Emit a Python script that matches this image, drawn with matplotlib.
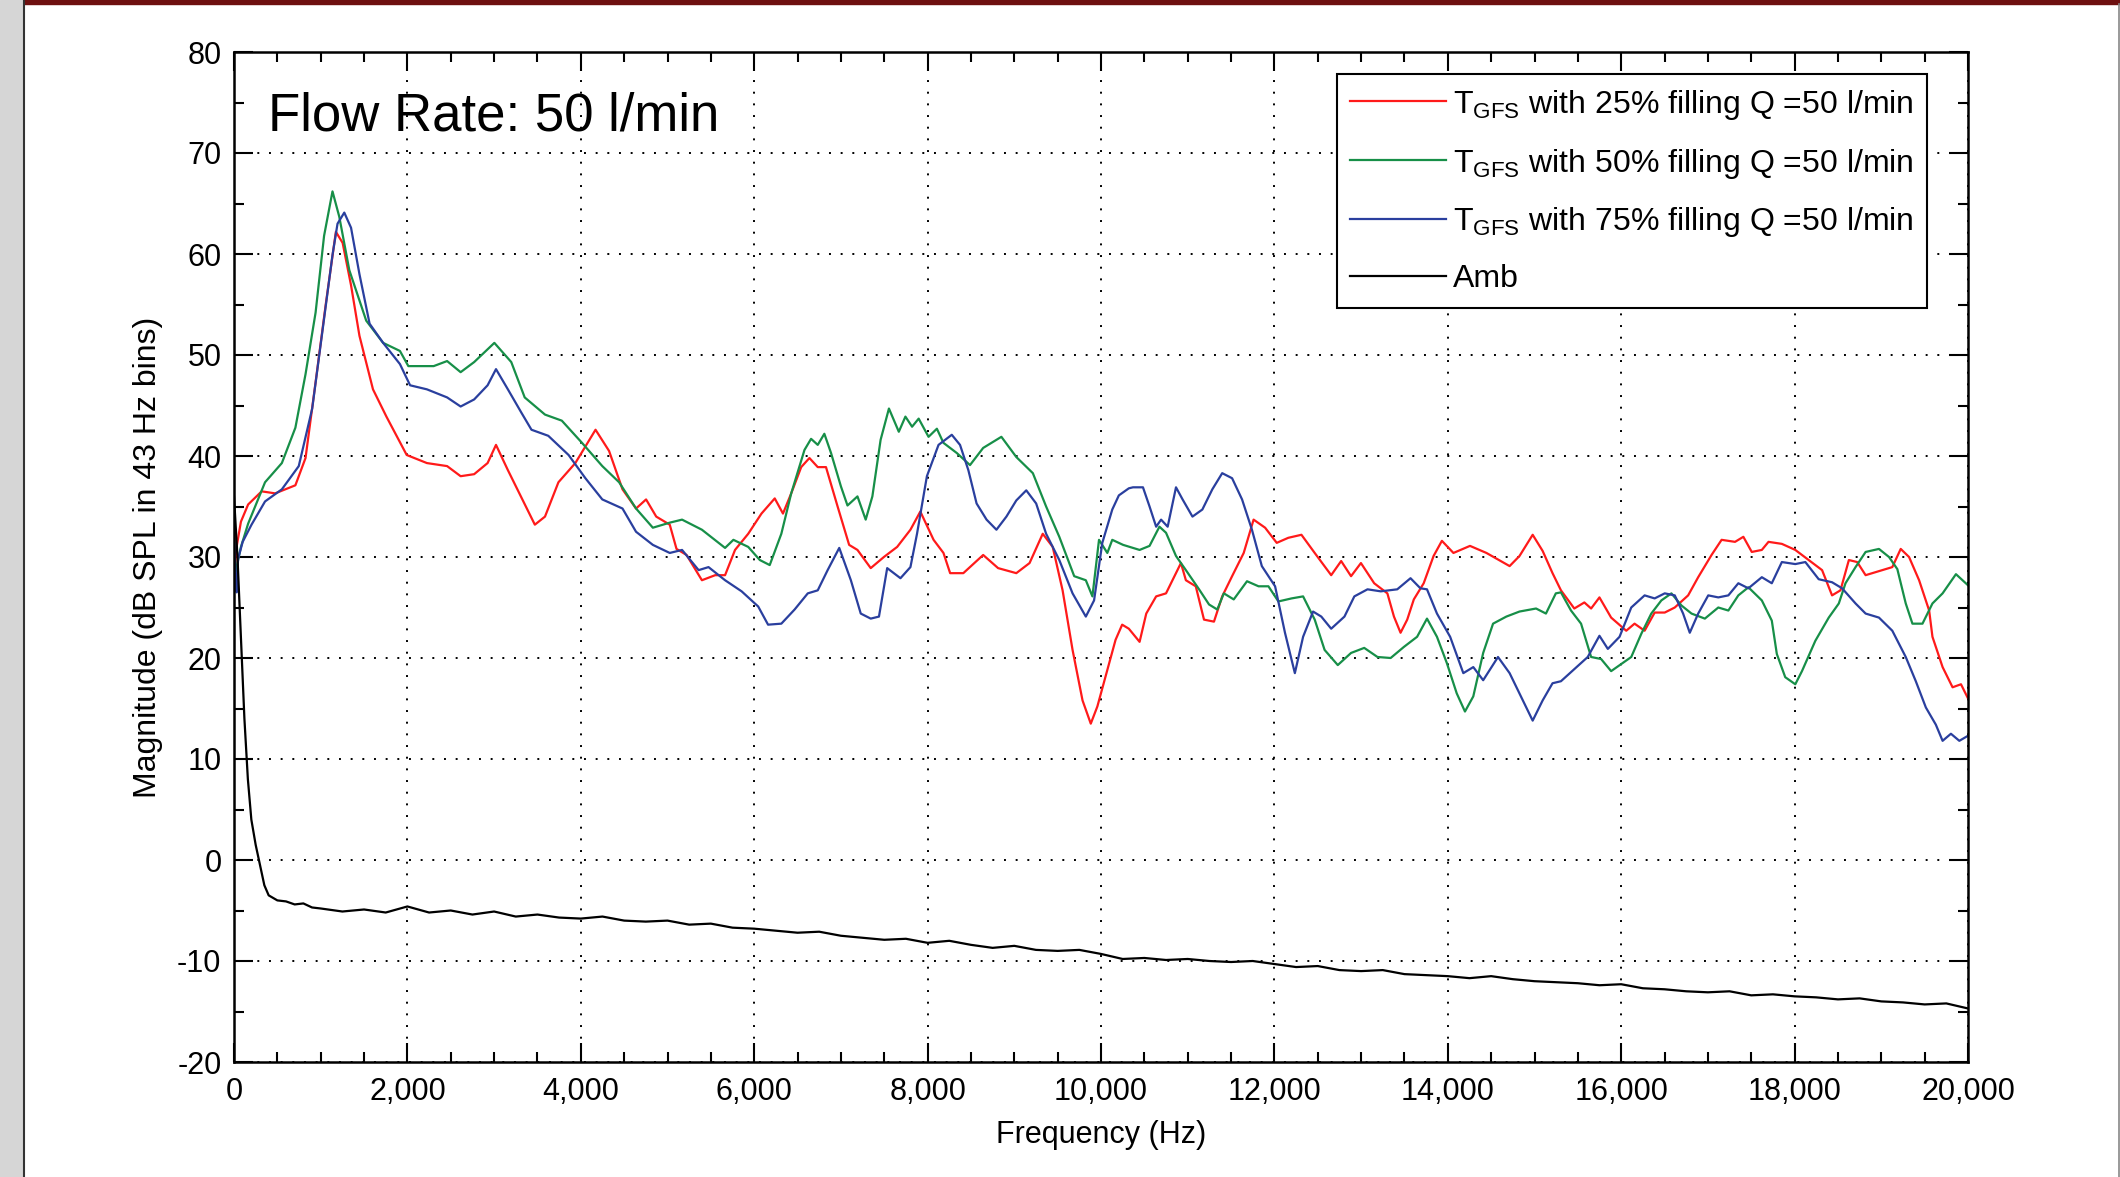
import matplotlib
matplotlib.use("Agg")
from matplotlib import pyplot as plt
from matplotlib.ticker import MultipleLocator
from matplotlib.patches import Rectangle
from matplotlib.lines import Line2D

plt.rcParams['font.family'] = ['Liberation Sans', 'DejaVu Sans']
plt.rcParams['mathtext.fontset'] = 'custom'
plt.rcParams['mathtext.rm'] = 'Liberation Sans'
plt.rcParams['mathtext.it'] = 'Liberation Sans:italic'
plt.rcParams['axes.unicode_minus'] = False

# T_GFS 25% filling
red_f = [0, 30, 80, 163, 319, 475, 708, 825, 941, 1058, 1175, 1253, 1350, 1447, 1603, 1758, 1992,
         2225, 2458, 2614, 2770, 2925, 3022, 3159, 3314, 3470, 3587, 3742, 3937, 4170, 4326, 4481,
         4637, 4753, 4870, 5026, 5104, 5220, 5397, 5550, 5664, 5779, 5931, 6084, 6237, 6332, 6427,
         6542, 6637, 6733, 6828, 6962, 7095, 7191, 7344, 7496, 7649, 7802, 7916, 8069, 8183, 8260,
         8412, 8641, 8813, 9023, 9176, 9328, 9443, 9557, 9672, 9787, 9882, 9958, 10054, 10168,
         10244, 10321, 10445, 10522, 10636, 10750, 10865, 10922, 10979, 11093, 11188, 11303, 11398,
         11512, 11646, 11760, 11893, 12027, 12160, 12312, 12465, 12655, 12770, 12884, 12998, 13151,
         13303, 13379, 13455, 13532, 13608, 13722, 13836, 13932, 14065, 14256, 14446, 14713, 14827,
         14979, 15094, 15208, 15305, 15459, 15575, 15653, 15749, 15884, 16058, 16154, 16270, 16386,
         16502, 16618, 16772, 16888, 17042, 17158, 17313, 17409, 17506, 17622, 17699, 17853, 18008,
         18162, 18317, 18432, 18529, 18626, 18722, 18819, 19012, 19127, 19224, 19320, 19436, 19552,
         19590, 19707, 19822, 19919, 20000]
red_db = [28.0, 31.0, 33.5, 35.2, 36.5, 36.3, 37.1, 39.8, 47.3, 55.0, 62.2, 61.1, 56.9, 51.9, 46.6,
          43.9, 40.1, 39.3, 39.0, 38.0, 38.2, 39.3, 41.1, 38.6, 35.9, 33.2, 34.0, 37.4, 39.3, 42.6,
          40.5, 36.7, 34.8, 35.7, 34.0, 33.2, 30.8, 30.2, 27.7, 28.2, 28.2, 30.7, 32.3, 34.3, 35.8,
          34.3, 36.3, 38.9, 39.8, 38.9, 38.9, 35.0, 31.2, 30.7, 28.9, 30.0, 31.0, 32.7, 34.5, 31.7,
          30.4, 28.4, 28.4, 30.2, 28.9, 28.4, 29.4, 32.3, 31.0, 26.7, 20.8, 15.8, 13.5, 15.2, 18.2,
          21.8, 23.3, 22.9, 21.6, 24.4, 26.1, 26.4, 28.4, 29.4, 27.7, 27.1, 23.8, 23.6, 26.1, 28.1,
          30.4, 33.7, 32.9, 31.4, 31.9, 32.2, 30.4, 28.2, 29.6, 28.1, 29.4, 27.4, 26.4, 24.1, 22.5,
          23.8, 25.8, 27.4, 30.1, 31.6, 30.4, 31.1, 30.4, 29.1, 30.1, 32.2, 30.6, 28.4, 26.7, 24.9,
          25.5, 24.9, 26.0, 24.0, 22.7, 23.4, 22.7, 24.5, 24.5, 25.0, 26.2, 28.0, 30.2, 31.7, 31.5,
          32.0, 30.5, 30.7, 31.5, 31.3, 30.7, 29.7, 28.7, 26.2, 26.7, 29.7, 29.5, 28.2, 28.7, 29.0,
          30.8, 30.0, 27.7, 24.7, 22.1, 19.1, 17.1, 17.4, 16.0]

# T_GFS 50% filling
green_f = [0, 30, 80, 163, 358, 552, 708, 825, 941, 1039, 1136, 1214, 1330, 1525, 1720, 1914, 2011,
           2303, 2458, 2614, 2770, 3003, 3198, 3353, 3587, 3781, 4014, 4248, 4442, 4637, 4831, 5026,
           5168, 5397, 5664, 5760, 5931, 6065, 6179, 6313, 6427, 6580, 6656, 6733, 6809, 6886, 7000,
           7076, 7191, 7286, 7363, 7458, 7554, 7668, 7744, 7821, 7897, 8011, 8107, 8183, 8336, 8489,
           8641, 8851, 9023, 9214, 9367, 9519, 9691, 9825, 9901, 9977, 10073, 10130, 10255, 10445,
           10560, 10674, 10750, 10865, 10979, 11131, 11246, 11341, 11417, 11531, 11684, 11817, 11931,
           12046, 12198, 12331, 12465, 12579, 12731, 12884, 13036, 13189, 13341, 13494, 13646, 13760,
           13875, 13989, 14103, 14198, 14294, 14408, 14522, 14675, 14827, 15018, 15132, 15246, 15305,
           15421, 15537, 15653, 15768, 15884, 16000, 16116, 16232, 16347, 16463, 16579, 16695, 16811,
           16965, 17120, 17236, 17351, 17467, 17622, 17737, 17795, 17892, 18008, 18085, 18239, 18394,
           18510, 18587, 18703, 18819, 18973, 19089, 19185, 19282, 19359, 19475, 19590, 19707, 19861,
           20000]
green_db = [27.5, 29.0, 31.0, 33.3, 37.4, 39.3, 42.8, 48.1, 54.2, 61.8, 66.2, 63.7, 58.4, 53.4, 51.2,
            50.4, 48.9, 48.9, 49.4, 48.3, 49.3, 51.2, 49.3, 45.8, 44.1, 43.5, 41.3, 39.0, 37.4, 34.8,
            32.9, 33.4, 33.7, 32.7, 30.9, 31.7, 31.0, 29.7, 29.2, 32.3, 36.3, 40.6, 41.7, 41.1, 42.2,
            40.3, 37.0, 35.1, 36.0, 33.7, 36.0, 41.6, 44.7, 42.4, 43.9, 42.9, 43.7, 41.9, 42.7, 41.3,
            40.3, 39.1, 40.8, 41.9, 39.9, 38.3, 35.0, 32.0, 28.1, 27.7, 26.1, 31.7, 30.4, 31.7, 31.2,
            30.7, 31.1, 33.0, 32.4, 30.1, 28.7, 26.8, 25.3, 24.8, 26.4, 25.8, 27.6, 27.1, 27.1, 25.6,
            25.9, 26.1, 23.8, 20.8, 19.3, 20.5, 21.0, 20.1, 20.0, 21.1, 22.1, 23.9, 22.1, 19.5, 16.5,
            14.7, 16.2, 20.5, 23.4, 24.1, 24.6, 24.9, 24.4, 26.4, 26.5, 24.7, 23.4, 20.1, 19.9, 18.7,
            19.4, 20.1, 22.4, 24.4, 25.7, 26.4, 25.2, 24.4, 23.9, 25.0, 24.7, 26.2, 27.0, 25.7, 23.7,
            20.4, 18.1, 17.4, 18.7, 21.7, 24.0, 25.4, 27.4, 29.0, 30.5, 30.8, 30.0, 28.8, 25.4, 23.4,
            23.4, 25.4, 26.4, 28.3, 27.2]

# T_GFS 75% filling
blue_f = [0, 15, 30, 47, 100, 202, 358, 552, 747, 902, 1019, 1136, 1194, 1272, 1350, 1447, 1564,
          1720, 1914, 2031, 2225, 2458, 2614, 2770, 2925, 3022, 3159, 3314, 3431, 3625, 3859, 4053,
          4248, 4481, 4637, 4831, 5026, 5168, 5359, 5473, 5664, 5855, 6046, 6160, 6313, 6466, 6618,
          6733, 6847, 6981, 7115, 7229, 7344, 7439, 7534, 7687, 7802, 7878, 7992, 8126, 8279, 8374,
          8470, 8565, 8680, 8794, 8909, 9023, 9138, 9252, 9367, 9519, 9672, 9825, 9920, 10015, 10130,
          10206, 10321, 10369, 10484, 10560, 10636, 10693, 10769, 10865, 10941, 11055, 11169, 11284,
          11398, 11512, 11627, 11741, 11855, 12008, 12122, 12236, 12331, 12446, 12541, 12655, 12808,
          12922, 13074, 13227, 13417, 13570, 13684, 13760, 13875, 14027, 14179, 14294, 14408, 14579,
          14713, 14865, 14979, 15094, 15208, 15305, 15459, 15614, 15749, 15846, 15981, 16116, 16270,
          16386, 16502, 16618, 16714, 16791, 16888, 17004, 17120, 17236, 17351, 17467, 17622, 17737,
          17853, 18008, 18124, 18278, 18432, 18548, 18703, 18819, 18973, 19127, 19282, 19398, 19514,
          19629, 19707, 19803, 19900, 20000]
blue_db = [33.0, 28.0, 26.5, 29.8, 31.5, 33.2, 35.5, 36.7, 39.0, 44.7, 52.3, 59.9, 63.0, 64.1, 62.6,
           58.0, 53.1, 51.2, 49.1, 47.0, 46.6, 45.8, 44.9, 45.6, 47.0, 48.6, 46.6, 44.3, 42.6, 42.0,
           40.1, 37.8, 35.7, 34.8, 32.5, 31.2, 30.4, 30.7, 28.7, 29.0, 27.7, 26.6, 25.1, 23.3, 23.4,
           24.8, 26.4, 26.7, 28.7, 30.9, 27.7, 24.4, 23.9, 24.1, 28.9, 27.9, 29.0, 32.3, 38.0, 41.1,
           42.1, 41.1, 38.6, 35.3, 33.7, 32.7, 34.0, 35.6, 36.6, 35.3, 32.3, 29.7, 26.4, 24.1, 25.7,
           31.4, 34.7, 36.1, 36.8, 36.9, 36.9, 35.0, 33.0, 33.7, 33.0, 36.9, 35.7, 34.0, 34.7, 36.7,
           38.3, 37.8, 35.7, 32.7, 29.1, 27.1, 22.5, 18.5, 22.1, 24.6, 24.1, 22.9, 24.1, 26.1, 26.8,
           26.6, 26.8, 27.9, 26.9, 26.8, 24.4, 22.1, 18.5, 19.1, 17.8, 20.1, 18.5, 15.8, 13.8, 15.8,
           17.5, 17.7, 18.9, 20.1, 22.2, 20.9, 22.1, 25.0, 26.2, 25.9, 26.4, 26.2, 24.4, 22.5, 24.4,
           26.2, 26.0, 26.2, 27.4, 26.9, 28.0, 27.4, 29.5, 29.3, 29.5, 27.8, 27.5, 26.9, 25.4, 24.4,
           24.0, 22.7, 20.1, 17.7, 15.1, 13.4, 11.8, 12.5, 11.8, 12.3]

# Ambient
amb_f = [0, 40, 80, 120, 160, 200, 250, 300, 350, 400, 500, 600, 700, 800, 900, 1000, 1250, 1500,
         1750, 2000, 2250, 2500, 2750, 3000, 3250, 3500, 3750, 4000, 4250, 4500, 4750, 5000, 5250,
         5500, 5750, 6000, 6250, 6500, 6750, 7000, 7250, 7500, 7750, 8000, 8250, 8500, 8750, 9000,
         9250, 9500, 9750, 10000, 10250, 10500, 10750, 11000, 11250, 11500, 11750, 12000, 12250,
         12500, 12750, 13000, 13250, 13500, 13750, 14000, 14250, 14500, 14750, 15000, 15250, 15500,
         15750, 16000, 16250, 16500, 16750, 17000, 17250, 17500, 17750, 18000, 18250, 18500, 18750,
         19000, 19250, 19500, 19750, 20000]
amb_db = [36.0, 30.0, 22.0, 14.0, 8.0, 4.0, 1.5, -0.5, -2.5, -3.5, -4.0, -4.1, -4.4, -4.3, -4.7,
          -4.8, -5.1, -4.9, -5.2, -4.6, -5.2, -5.0, -5.4, -5.1, -5.6, -5.4, -5.7, -5.8, -5.6, -6.0,
          -6.1, -6.0, -6.4, -6.3, -6.7, -6.8, -7.0, -7.2, -7.1, -7.5, -7.7, -7.9, -7.8, -8.2, -8.0,
          -8.4, -8.7, -8.5, -8.9, -9.0, -8.9, -9.3, -9.8, -9.7, -9.9, -9.8, -10.0, -10.1, -10.0,
          -10.3, -10.6, -10.5, -10.9, -11.0, -10.9, -11.3, -11.4, -11.5, -11.7, -11.5, -11.8, -12.0,
          -12.1, -12.2, -12.4, -12.3, -12.7, -12.8, -13.0, -13.1, -13.0, -13.4, -13.3, -13.5, -13.6,
          -13.8, -13.7, -14.0, -14.1, -14.3, -14.2, -14.7]

series_labels = [r'T$_{\mathrm{GFS}}$ with 25% filling Q =50 l/min',
                 r'T$_{\mathrm{GFS}}$ with 50% filling Q =50 l/min',
                 r'T$_{\mathrm{GFS}}$ with 75% filling Q =50 l/min',
                 'Amb']
x_ticks = [0, 2000, 4000, 6000, 8000, 10000, 12000, 14000, 16000, 18000, 20000]
x_tick_labels = ['0', '2,000', '4,000', '6,000', '8,000', '10,000', '12,000', '14,000',
                 '16,000', '18,000', '20,000']
y_ticks = [-20, -10, 0, 10, 20, 30, 40, 50, 60, 70, 80]

W, H = 2120, 1177
fig = plt.figure(figsize=(W / 100, H / 100), dpi=100)

# page frame around the figure
fig.add_artist(Rectangle((0, 0), 23 / W, 1, transform=fig.transFigure, color='#d6d6d6', zorder=0))
fig.add_artist(Line2D([24 / W, 24 / W], [0, 1], transform=fig.transFigure, color='#333333', lw=1.5))
fig.add_artist(Rectangle((24 / W, 1 - 4 / H), 1, 4 / H, transform=fig.transFigure,
                         color='#6e1010', zorder=1))
fig.add_artist(Line2D([2118.5 / W, 2118.5 / W], [0, 1 - 4 / H], transform=fig.transFigure,
                      color='#888888', lw=1.2))

ax = fig.add_axes([234 / W, 1 - 1062 / H, 1734 / W, 1010 / H])

ax.plot(red_f, red_db, color='#ff1a1a', lw=1.6, label=series_labels[0])
ax.plot(green_f, green_db, color='#178f48', lw=1.6, label=series_labels[1])
ax.plot(blue_f, blue_db, color='#2a3f9e', lw=1.6, label=series_labels[2])
ax.plot(amb_f, amb_db, color='black', lw=1.6, label=series_labels[3])

ax.set_xlim(0, 20000)
ax.set_ylim(-20, 80)
ax.set_xticks(x_ticks)
ax.set_xticklabels(x_tick_labels)
ax.set_yticks(y_ticks)
ax.xaxis.set_minor_locator(MultipleLocator(500))
ax.yaxis.set_minor_locator(MultipleLocator(5))
ax.tick_params(which='both', direction='in', top=True, right=True, width=1.5, labelsize=22)
ax.tick_params(which='major', length=14)
ax.tick_params(which='minor', length=7)
ax.tick_params(axis='x', which='major', pad=11)
ax.tick_params(axis='y', which='major', pad=9)
for s in ax.spines.values():
    s.set_linewidth(1.8)

ax.grid(True, which='major', color='black', linestyle=(0, (1, 5)), linewidth=1.4)

ax.set_xlabel('Frequency (Hz)', fontsize=22, labelpad=9)
ax.set_ylabel('Magnitude (dB SPL in 43 Hz bins)', fontsize=23, labelpad=10)

ax.text(0.0196, 0.936, 'Flow Rate: 50 l/min', transform=ax.transAxes, fontsize=38,
        ha='left', va='center')

leg = ax.legend(loc='upper right', bbox_to_anchor=(0.9764, 0.978), fontsize=23, fancybox=False,
                edgecolor='black', framealpha=1, handlelength=3.0, labelspacing=0.78,
                borderpad=0.42, handletextpad=0.22, borderaxespad=0)
leg.get_frame().set_linewidth(1.5)

fig.savefig('out.png', dpi=100)
